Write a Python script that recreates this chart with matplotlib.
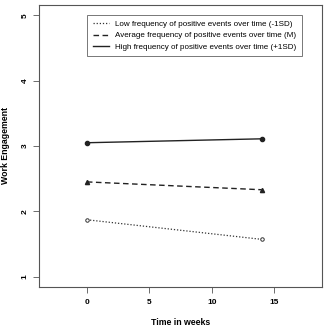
import matplotlib
matplotlib.use("Agg")
import matplotlib.pyplot as plt

plt.rcParams['font.family'] = ['Liberation Sans', 'DejaVu Sans']

weeks = [0, 14]
low_freq = [1.87, 1.57]
avg_freq = [2.45, 2.33]
high_freq = [3.05, 3.11]
labels = ["Low frequency of positive events over time (-1SD)",
          "Average frequency of positive events over time (M)",
          "High frequency of positive events over time (+1SD)"]

fig = plt.figure(figsize=(3.25, 3.29), dpi=100)
ax = fig.add_axes([39 / 325, 1 - 287 / 329, 283 / 325, 282 / 329])

ax.plot(weeks, low_freq, color="#333333", linestyle=(0, (1, 1.5)), linewidth=0.9,
        marker="o", markersize=2.5, markerfacecolor="white", markeredgewidth=0.7,
        label=labels[0])
ax.plot(weeks, avg_freq, color="#222222", linestyle=(0, (4, 2.5)), linewidth=1.0,
        marker="^", markersize=3, label=labels[1])
ax.plot(weeks, high_freq, color="#222222", linestyle="-", linewidth=1.0,
        marker="o", markersize=3, label=labels[2])

ax.set_xlim(-3.84, 18.84)
ax.set_ylim(0.84, 5.16)
ax.set_xticks([0, 5, 10, 15])
ax.set_yticks([1, 2, 3, 4, 5])
ax.tick_params(labelsize=6, length=4.5, width=0.6, color="#555555")
ax.tick_params(axis="x", pad=4)
ax.tick_params(axis="y", pad=3)
for t in ax.get_yticklabels():
    t.set_rotation(90)
    t.set_va("center")
    t.set_fontweight("bold")
for t in ax.get_xticklabels():
    t.set_fontweight("bold")
for s in ax.spines.values():
    s.set_linewidth(0.8)
    s.set_color("#555555")

ax.set_xlabel("Time in weeks", fontsize=6.3, fontweight="bold")
ax.set_ylabel("Work Engagement", fontsize=6.3, fontweight="bold")
ax.xaxis.set_label_coords(0.5, -0.11)
ax.yaxis.set_label_coords(-0.102, 0.5)

leg = ax.legend(loc="upper left", bbox_to_anchor=(48 / 283, 0.965), fontsize=5.8,
                frameon=True, fancybox=False, edgecolor="#555555",
                borderaxespad=0, handlelength=2.0, borderpad=0.7,
                labelspacing=0.45, handletextpad=0.8)
leg.get_frame().set_linewidth(0.7)
for h in leg.legend_handles:
    h.set_marker("")

fig.savefig("out.png", dpi=100)
